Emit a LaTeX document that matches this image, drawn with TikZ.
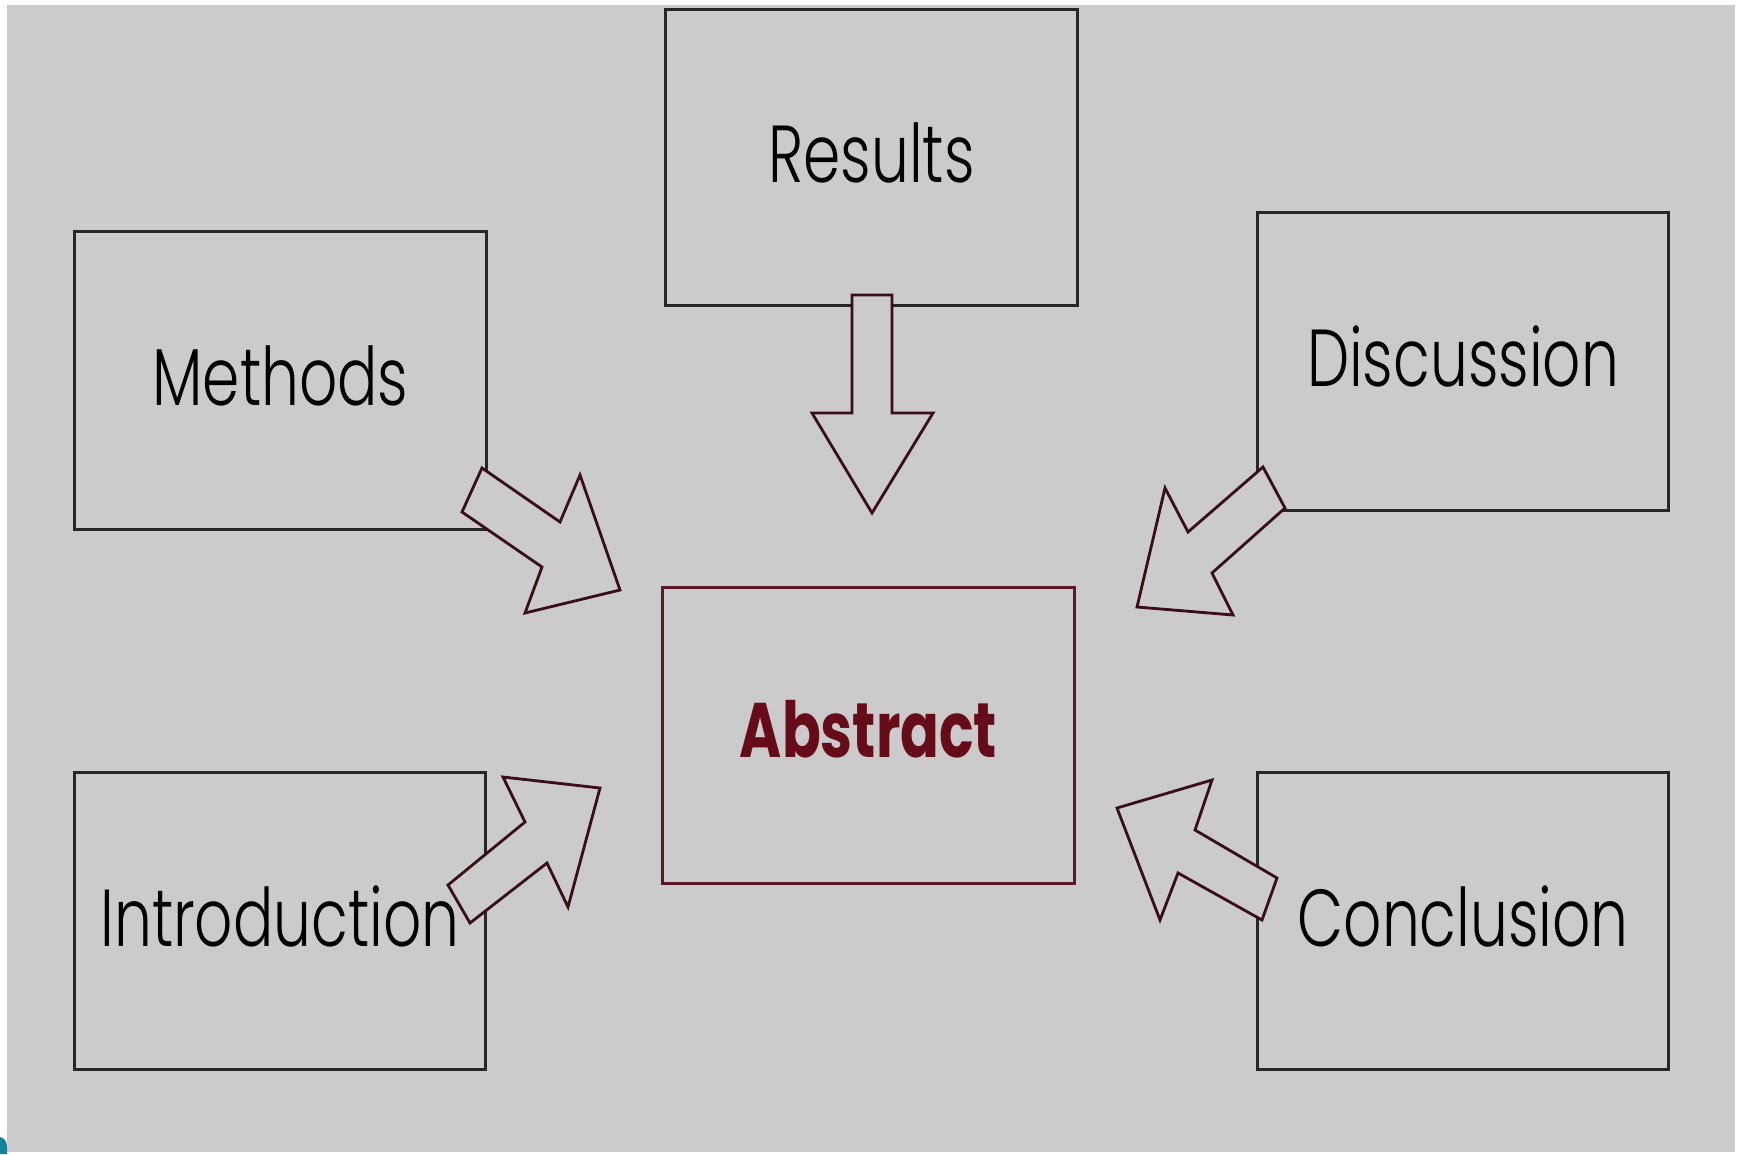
\documentclass[tikz,border=0pt]{standalone}
\usepackage{fontspec}
\newfontfamily\popfont[FakeStretch=0.74, UprightFont={* Light}, BoldFont={* Bold}]{Poppins}
\usetikzlibrary{backgrounds}
\pgfdeclarelayer{bottom}
\pgfsetlayers{bottom,background,main}
\definecolor{bggray}{HTML}{CBCBCB}
\definecolor{boxline}{HTML}{262626}
\definecolor{arrowline}{HTML}{3A0E18}
\definecolor{absline}{HTML}{5A1A28}
\definecolor{absred}{HTML}{660C18}
\definecolor{tealmark}{HTML}{17809C}
\begin{document}
\begin{tikzpicture}[x=0.02cm,y=-0.02cm,
  boxtext/.style={minimum width=8.22cm, minimum height=5.92cm, inner sep=0pt,
    font=\popfont\fontsize{46}{46}\selectfont, text=black},
  boxframe/.style={draw=boxline, line width=1.6pt},
  blockarrow/.style={draw=arrowline, fill=bggray, line width=1.6pt, line join=miter}]
\begin{pgfonlayer}{bottom}
\fill[white] (0,0) rectangle (1741,1154);
\fill[bggray] (7,5) rectangle (1735,1152);
\fill[tealmark] (0,1137) .. controls (5,1138) and (7,1142) .. (7,1148) -- (7,1154) -- (0,1154) -- cycle;
\end{pgfonlayer}
\useasboundingbox (0,0) rectangle (1741,1154);

% block arrows
\draw[blockarrow] (852,295) -- (892,295) -- (892,413) -- (933,413) -- (872,513) -- (812,413) -- (852,413) -- cycle;
\draw[blockarrow] (482,468) -- (560,522) -- (580,475) -- (620,590) -- (525,613) -- (542,567) -- (462,512) -- cycle;
\draw[blockarrow] (1263,467) -- (1285,508) -- (1212,573) -- (1233,615) -- (1137,607) -- (1165,488) -- (1188,532) -- cycle;
\draw[blockarrow] (448,885) -- (470,923) -- (547,863) -- (568,907) -- (600,788) -- (503,777) -- (525,822) -- cycle;
\draw[blockarrow] (1277,878) -- (1262,920) -- (1178,873) -- (1160,920) -- (1117,808) -- (1212,780) -- (1195,830) -- cycle;

% boxes (text nodes sit 5px above the frame centre)
\node[boxtext, minimum height=5.90cm] (results) at (871.5,152.5) {Results};
\node[boxtext, minimum height=5.94cm] (methods) at (280.5,375.5) {Methods};
\node[boxtext, minimum width=8.20cm, minimum height=5.94cm] (discussion) at (1463,356.5) {Discussion};
\node[boxtext, text=absred, font=\popfont\bfseries\fontsize{44}{44}\selectfont, minimum height=5.90cm] (abstract) at (868.5,729.5) {Abstract};
\node[boxtext, minimum width=8.20cm] (intro) at (280,916) {Introduction};
\node[boxtext, minimum width=8.20cm] (conclusion) at (1463,916) {Conclusion};

\begin{pgfonlayer}{background}
\foreach \n in {results,methods,discussion,intro,conclusion}
  \draw[boxframe] ([yshift=-0.1cm]\n.north west) rectangle ([yshift=-0.1cm]\n.south east);
\draw[boxframe, draw=absline] ([yshift=-0.12cm]abstract.north west) rectangle ([yshift=-0.12cm]abstract.south east);
\end{pgfonlayer}
\end{tikzpicture}
\end{document}
